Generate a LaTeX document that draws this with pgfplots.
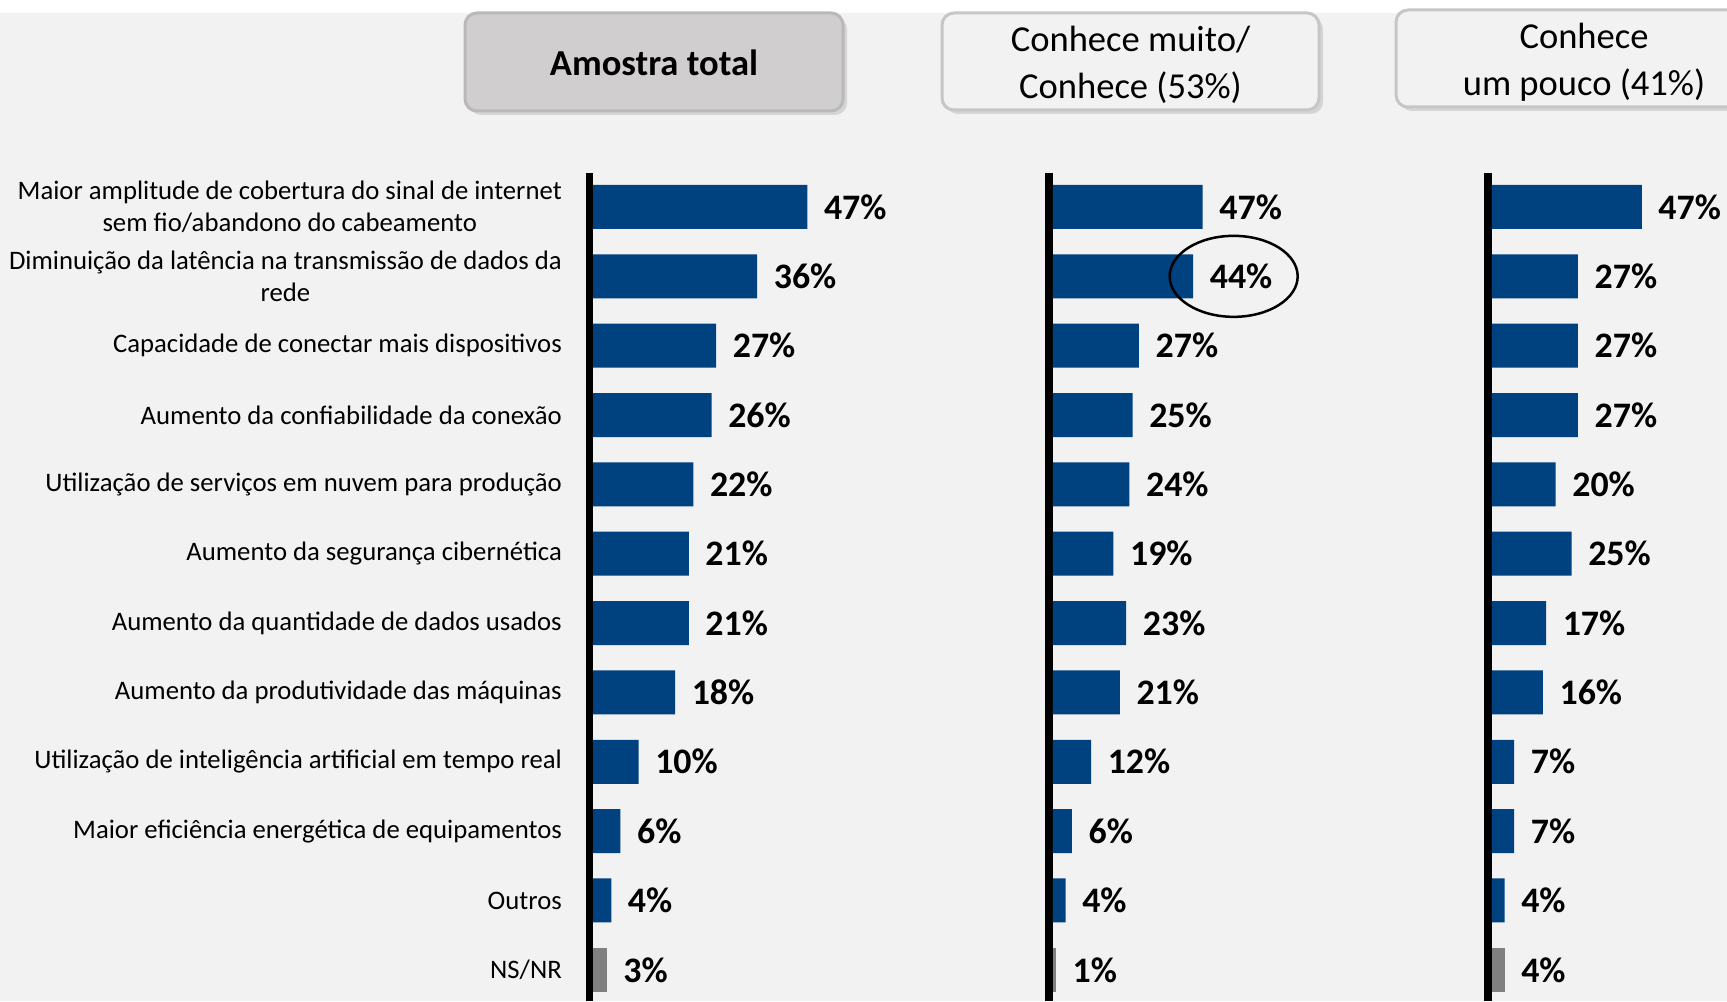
\documentclass[border=0pt]{standalone}
\usepackage{pgfplots}
\usepackage{pgfplotstable}
\pgfplotsset{compat=1.18}
\usepackage{fontspec}
\setmainfont{Carlito}
\usetikzlibrary{shadows}

\definecolor{barblue}{RGB}{0,66,128}
\definecolor{bargray}{RGB}{128,128,128}
\definecolor{bg}{RGB}{242,242,242}
\definecolor{boxgray}{RGB}{208,206,206}

% rows 0..10 in blue, row 11 (NS/NR) in gray
\pgfplotstableread{
row total muito pouco
0  47 47 47
1  36 44 27
2  27 27 27
3  26 25 27
4  22 24 20
5  21 19 25
6  21 23 17
7  18 21 16
8  10 12 7
9  6  6  7
10 4  4  4
}\tabmain
\pgfplotstableread{
row total muito pouco
11 3 1 4
}\tabns

\pgfplotsset{
  panel/.style={
    scale only axis, height=8.28cm,
    xbar, bar width=4.4mm, bar shift=0pt,
    xmax=50, ymin=-0.49, ymax=11.45, y dir=reverse,
    axis x line=none, axis y line=left,
    y axis line style={-, line width=0.75mm, black},
    xtick=\empty, ytick=\empty, major tick length=0pt,
    ytick style={draw=none},
    clip=false,
    point meta=x,
    nodes near coords={\pgfmathprintnumber{\pgfplotspointmeta}\%},
    nodes near coords style={font=\fontsize{10.2}{12}\selectfont\bfseries,
      anchor=west, inner sep=0pt, xshift=1.6mm, text=black},
    /pgf/number format/assume math mode=true,
  },
}

\begin{document}
\begin{tikzpicture}
\useasboundingbox (0,0) rectangle (17.27,10.01);
\fill[bg] (0,0) rectangle (17.27,10.01);
\fill[white] (0,9.88) rectangle (17.27,10.01);

% header boxes
\filldraw[fill=boxgray, draw=gray!55, line width=0.3mm, rounded corners=1.2mm,
  drop shadow={shadow xshift=0.4mm, shadow yshift=-0.4mm, opacity=0.25}]
  (4.65,8.90) rectangle (8.43,9.88);
\node[font=\fontsize{10.4}{12.5}\selectfont\bfseries] at (6.54,9.38) {Amostra total};

\filldraw[fill=bg, draw=gray!45, line width=0.3mm, rounded corners=1.2mm,
  drop shadow={shadow xshift=0.4mm, shadow yshift=-0.4mm, opacity=0.25}]
  (9.42,8.91) rectangle (13.19,9.88);
\node[align=center, font=\fontsize{10.4}{13.4}\selectfont] at (11.305,9.36)
  {Conhece muito/\\Conhece (53\%)};

\begin{scope}
\clip (0,0) rectangle (17.27,10.01);
\filldraw[fill=bg, draw=gray!45, line width=0.3mm, rounded corners=1.2mm,
  drop shadow={shadow xshift=0.4mm, shadow yshift=-0.4mm, opacity=0.25}]
  (13.96,8.94) rectangle (17.74,9.91);
\end{scope}
\node[align=center, font=\fontsize{10.4}{13.4}\selectfont] at (15.84,9.39)
  {Conhece\\um pouco (41\%)};

% panel 1: total
\begin{axis}[panel, xmin=-0.77, width=2.315cm, at={(5.895cm,0cm)}, anchor=south west,
    ytick={0,...,11},
    yticklabels={
      {Maior amplitude de cobertura do sinal de internet\\sem fio/abandono do cabeamento},
      {Diminuição da latência na transmissão de dados da\\rede},
      Capacidade de conectar mais dispositivos,
      Aumento da confiabilidade da conexão,
      Utilização de serviços em nuvem para produção,
      Aumento da segurança cibernética,
      Aumento da quantidade de dados usados,
      Aumento da produtividade das máquinas,
      Utilização de inteligência artificial em tempo real,
      Maior eficiência energética de equipamentos,
      Outros,
      NS/NR},
    yticklabel style={font=\fontsize{7.6}{9.1}\selectfont, align=center,
      anchor=east, inner sep=0pt, xshift=-2.7mm},
  ]
  \addplot[fill=barblue, draw=none] table[x=total, y=row] {\tabmain};
  \addplot[fill=bargray, draw=none] table[x=total, y=row] {\tabns};
\end{axis}

% panel 2: conhece muito / conhece
\begin{axis}[panel, xmin=-1.2, width=1.633cm, at={(10.49cm,0cm)}, anchor=south west]
  \addplot[fill=barblue, draw=none] table[x=muito, y=row] {\tabmain};
  \addplot[fill=bargray, draw=none] table[x=muito, y=row] {\tabns};
  \draw[line width=0.25mm] (axis cs:56.7,1) ellipse [x radius=6.4mm, y radius=4.05mm];
\end{axis}

% panel 3: conhece um pouco
\begin{axis}[panel, xmin=-1.2, width=1.633cm, at={(14.88cm,0cm)}, anchor=south west]
  \addplot[fill=barblue, draw=none] table[x=pouco, y=row] {\tabmain};
  \addplot[fill=bargray, draw=none] table[x=pouco, y=row] {\tabns};
\end{axis}
\end{tikzpicture}
\end{document}
